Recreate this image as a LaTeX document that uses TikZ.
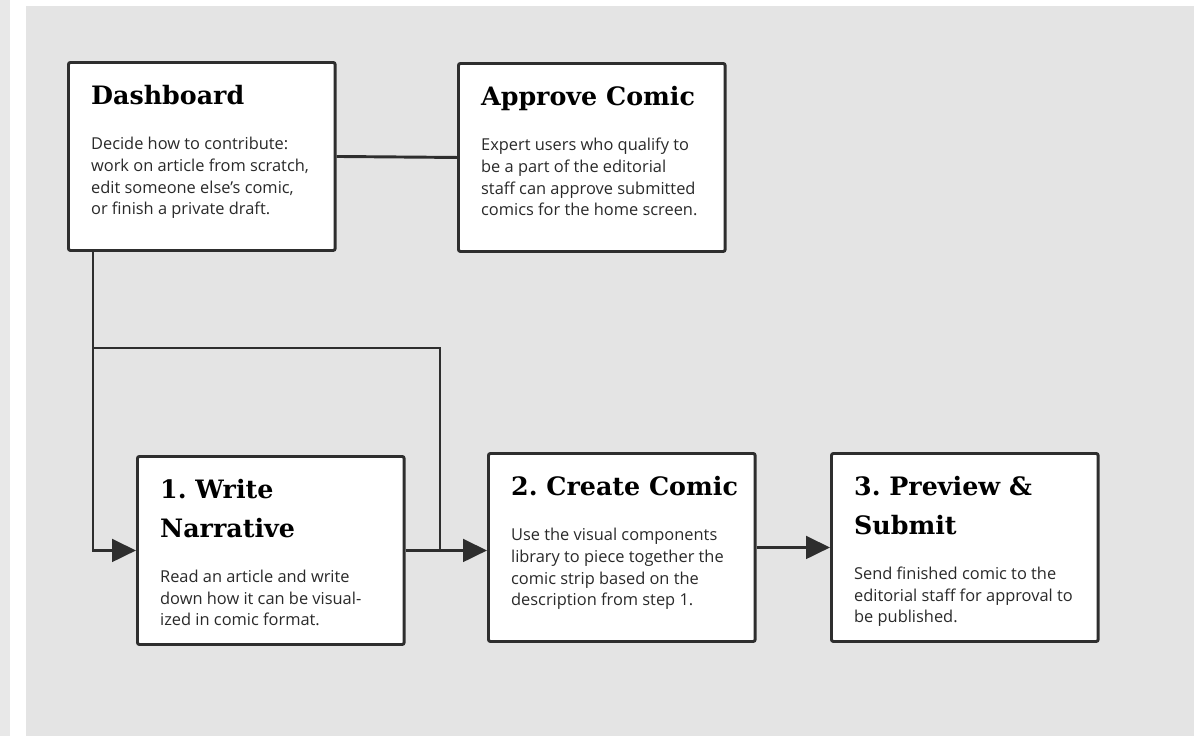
\documentclass[tikz,border=0pt]{standalone}
\usepackage{fontspec}
\setmainfont{Open Sans}
\newfontfamily\slabfont{DejaVu Serif}
\usetikzlibrary{arrows.meta}
\frenchspacing

\definecolor{panelgrey}{HTML}{E4E4E4}
\definecolor{stripgrey}{HTML}{E8E8E8}
\definecolor{linegrey}{HTML}{2E2E2E}
\definecolor{bodygrey}{HTML}{2A2A2A}

\newcommand{\steptext}[2]{%
  \parbox[c][141pt][t]{200pt}{\raggedright\leftskip=17pt\vspace*{17pt}%
    {\slabfont\bfseries\fontsize{19}{29}\selectfont #1\par}\vspace{18pt}%
    {\color{bodygrey}\fontsize{12.3}{16.2}\selectfont #2\par}}}

\begin{document}
\begin{tikzpicture}[x=0.75pt,y=-0.75pt,
    panel/.style={draw=linegrey,line width=2.2pt,fill=white,rounded corners=1.5pt,
      anchor=north west,inner sep=0pt,align=left},
    conn/.style={draw=linegrey,line width=2.2pt},
    arr/.style={conn,-{Triangle[length=18pt,width=17pt]}}]
  \useasboundingbox (0,0) rectangle (1194,736);
  \fill[white] (0,0) rectangle (1194,736);
  \fill[stripgrey] (0,0) rectangle (10,736);
  \fill[panelgrey] (26,6) rectangle (1194,736);

  \node[panel] (dash) at (67,61) {\steptext{Dashboard}{Decide how to contribute:\\work on article from scratch,\\edit someone else's comic,\\or finish a private draft.}};
  \node[panel] (appr) at (457,62) {\steptext{Approve Comic}{Expert users who qualify to\\be a part of the editorial\\staff can approve submitted\\comics for the home screen.}};
  \node[panel] (write) at (136,455) {\steptext{1. Write\\Narrative}{Read an article and write\\down how it can be visual-\\ized in comic format.}};
  \node[panel] (create) at (487,452) {\steptext{2. Create Comic}{Use the visual components\\library to piece together the\\comic strip based on the\\description from step 1.}};
  \node[panel] (prev) at (830,452) {\steptext{3. Preview \&\\Submit}{Send finished comic to the\\editorial staff for approval to\\be published.}};

  \coordinate (split) at (93,348);
  \coordinate (join) at (440,348);

  \draw[conn] (dash.east) -- (appr.west);
  \draw[arr] (split |- dash.south) -- (split) |- (write.west);
  \draw[conn] (split) -- (join) -- (join |- write.east);
  \draw[arr] (write.east) -- (write.east -| create.west);
  \draw[arr] (create.east) -- (prev.west);
\end{tikzpicture}
\end{document}
